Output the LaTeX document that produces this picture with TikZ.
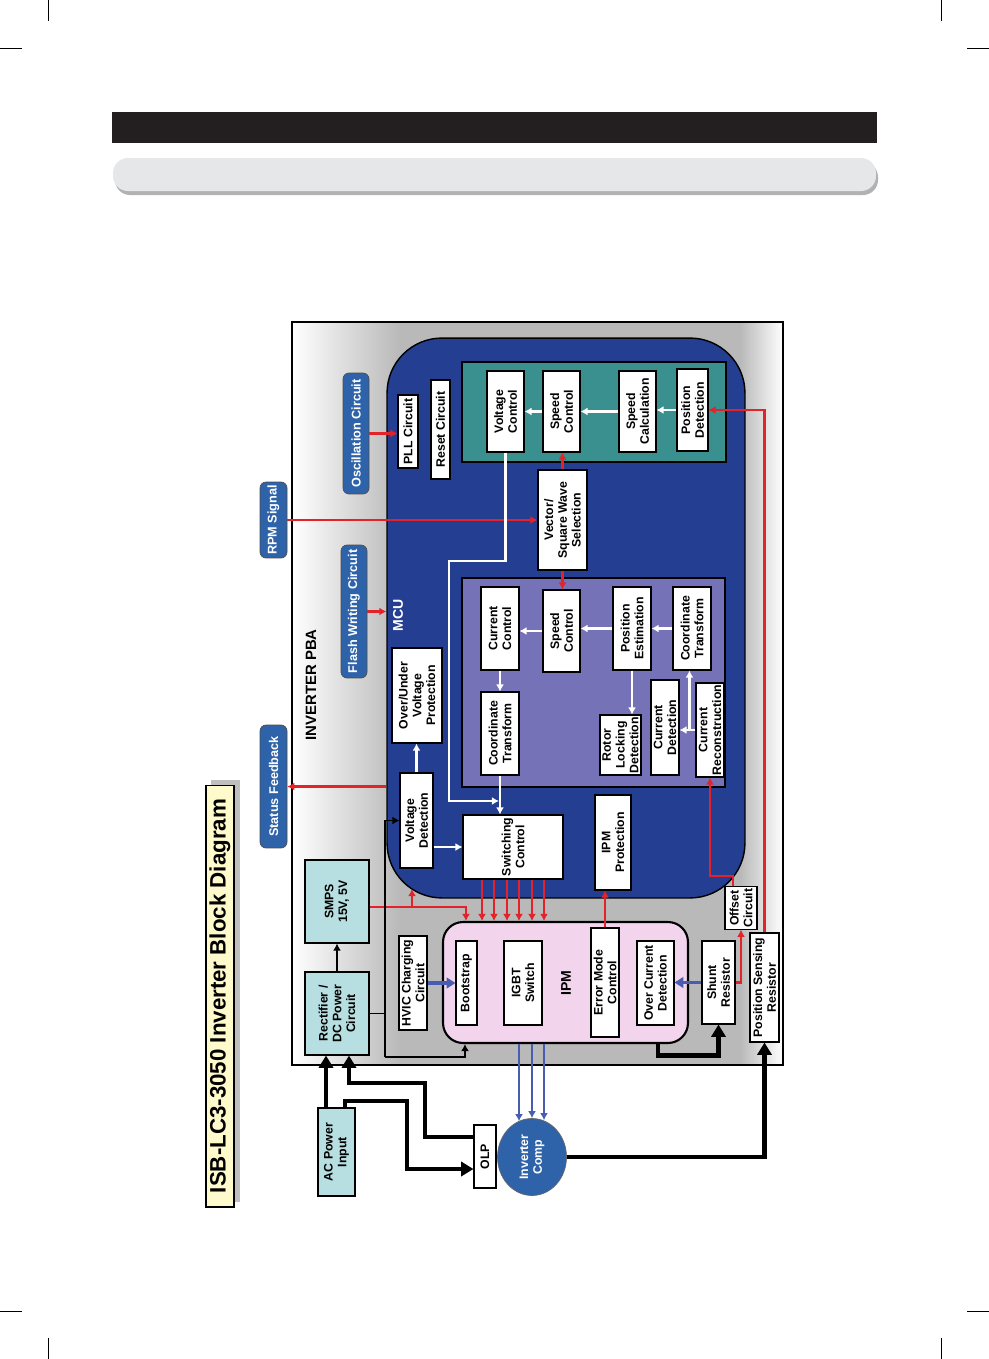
\documentclass[tikz,border=0pt]{standalone}
\usepackage{fontspec}
\setsansfont{Liberation Sans}
\usetikzlibrary{arrows.meta, calc, shapes.geometric}

\definecolor{mcublue}{RGB}{36,62,146}
\definecolor{pnlteal}{RGB}{58,143,143}
\definecolor{pnlviolet}{RGB}{118,114,184}
\definecolor{pillblue}{RGB}{46,99,170}
\definecolor{pwrcyan}{RGB}{183,222,224}
\definecolor{ipmpink}{RGB}{242,213,236}
\definecolor{ttlyellow}{RGB}{255,250,204}
\definecolor{sigred}{RGB}{226,35,42}
\definecolor{phblue}{RGB}{74,92,176}
\definecolor{barblack}{RGB}{35,31,32}
\definecolor{bargray}{RGB}{230,231,232}

\begin{document}
\begin{tikzpicture}[
  x=0.02cm, y=-0.02cm,
  font=\sffamily\bfseries\fontsize{7}{7.8}\selectfont,
  blk/.style={rectangle, draw=black, line width=0.6pt, fill=white, rotate=90, align=center, inner sep=1pt},
  pwr/.style={blk, fill=pwrcyan},
  pill/.style={rectangle, rounded corners=1.2mm, draw=black!70, line width=0.4pt, fill=pillblue, text=white, rotate=90, align=center, inner sep=1pt, font=\sffamily\bfseries\fontsize{7.2}{8}\selectfont},
  panel/.style={rectangle, draw=black, line width=1.6pt},
  lbl/.style={rotate=90, align=center, inner sep=0pt, font=\sffamily\bfseries\fontsize{8}{9}\selectfont},
  rarr/.style={draw=sigred, line width=1.4pt, -{Latex[length=4pt,width=4.5pt]}},
  warr/.style={draw=white, line width=1.2pt, -{Latex[length=4pt,width=4.5pt]}},
  barr/.style={draw=black, line width=1.1pt, -{Latex[length=4pt,width=4.5pt]}},
  bfat/.style={draw=black, line width=2.8pt, -{Triangle[length=7pt,width=8pt]}},
  parr/.style={draw=phblue, line width=1.2pt, -{Latex[length=4pt,width=4.5pt]}},
  pfat/.style={draw=phblue, line width=2pt, -{Triangle[length=5pt,width=6pt]}}
]
\useasboundingbox (0,0) rectangle (989,1359);

% page furniture
\draw[line width=0.5pt] (48,0) -- (48,21) (0,48) -- (22,48) (941,0) -- (941,21) (967,48) -- (989,48)
  (48,1338) -- (48,1359) (0,1311) -- (22,1311) (941,1338) -- (941,1359) (967,1311) -- (989,1311);
\fill[barblack] (112,112) rectangle (877,143);
\fill[gray!60, rounded corners=0.3cm] (115,162) rectangle (878,195);
\fill[bargray, rounded corners=0.3cm] (113,158) rectangle (876,191);

% title
\fill[gray!50] (211,780) rectangle (240,1202);
\node[blk, fill=ttlyellow, minimum width=8.44cm, minimum height=0.56cm, font=\sffamily\bfseries\fontsize{12.7}{14}\selectfont] (title) at (220,996) {ISB-LC3-3050 Inverter Block Diagram};

% inverter board
\shade[left color=white, right color=gray!55] (292,322) rectangle (400,1065);
\shade[left color=gray!55, middle color=gray!15, right color=gray!55] (400,322) rectangle (740,1065);
\shade[left color=gray!55, right color=white] (740,322) rectangle (783,1065);
\node[draw=black, line width=1.6pt, minimum width=9.82cm, minimum height=14.86cm] (pba) at (537.5,693.5) {};
\node[draw=black, line width=0.8pt, fill=mcublue, rounded corners=1.1cm, minimum width=7.16cm, minimum height=11.2cm] (mcu) at (566,618) {};
\node[panel, fill=pnlteal, minimum width=5.28cm, minimum height=2cm] (spdpnl) at (594,412) {};
\node[panel, fill=pnlviolet, minimum width=5.26cm, minimum height=4.18cm] (vecpnl) at (593.5,682.5) {};
\node[draw=black, line width=1.2pt, fill=ipmpink, rounded corners=0.4cm, minimum width=4.9cm, minimum height=2.42cm] (ipm) at (565.5,982.5) {};

\node[lbl, font=\sffamily\bfseries\fontsize{8.5}{10}\selectfont] (pbatxt) at (311,685) {INVERTER PBA};
\node[lbl, text=white] (mcutxt) at (398,615) {MCU};
\node[lbl] (ipmtxt) at (566,983) {IPM};

% outside signals
\node[pill, minimum width=2.42cm, minimum height=0.52cm] (osc) at (356,433.5) {Oscillation Circuit};
\node[pill, minimum width=2.66cm, minimum height=0.52cm] (flash) at (354,611.5) {Flash Writing Circuit};
\node[pill, minimum width=1.52cm, minimum height=0.54cm] (rpm) at (273.5,520) {RPM Signal};
\node[pill, minimum width=2.46cm, minimum height=0.54cm] (stat) at (273.5,786.5) {Status Feedback};

% MCU blocks
\node[blk, minimum width=1.46cm, minimum height=0.40cm] (pll) at (408,431.5) {PLL Circuit};
\node[blk, minimum width=1.98cm, minimum height=0.38cm] (rst) at (440.5,429.5) {Reset Circuit};
\node[blk, minimum width=1.62cm, minimum height=0.74cm] (vctl) at (505.5,411.5) {Voltage\\Control};
\node[blk, minimum width=1.62cm, minimum height=0.74cm] (sctlA) at (561.5,411.5) {Speed\\Control};
\node[blk, minimum width=1.62cm, minimum height=0.74cm] (scalc) at (637.5,411.5) {Speed\\Calculation};
\node[blk, minimum width=1.64cm, minimum height=0.62cm] (pdet) at (692.5,410) {Position\\Detection};
\node[blk, minimum width=2cm, minimum height=0.98cm] (vsel) at (562.5,520) {Vector/\\Square Wave\\Selection};
\node[blk, minimum width=1.66cm, minimum height=0.76cm] (cctl) at (500,628.5) {Current\\Control};
\node[blk, minimum width=1.64cm, minimum height=0.74cm] (sctlB) at (561.5,631) {Speed\\Control};
\node[blk, minimum width=1.66cm, minimum height=0.76cm] (pest) at (632,628.5) {Position\\Estimation};
\node[blk, minimum width=1.66cm, minimum height=0.76cm] (ctfB) at (692,628.5) {Coordinate\\Transform};
\node[blk, minimum width=1.66cm, minimum height=0.76cm] (ctfA) at (500,733.5) {Coordinate\\Transform};
\node[blk, minimum width=1.2cm, minimum height=0.82cm] (rlock) at (620.5,745) {Rotor\\Locking\\Detection};
\node[blk, minimum width=1.9cm, minimum height=0.56cm] (cdet) at (665,727.5) {Current\\Detection};
\node[blk, minimum width=1.88cm, minimum height=0.56cm] (crec) at (710,730) {Current\\Reconstruction};
\node[blk, minimum width=1.28cm, minimum height=2cm] (swc) at (513,847) {Switching\\Control};
\node[blk, minimum width=1.9cm, minimum height=0.66cm] (vdet) at (416.5,820.5) {Voltage\\Detection};
\node[blk, minimum width=1.9cm, minimum height=1cm] (ouvp) at (417,695.5) {Over/Under\\Voltage\\Protection};
\node[blk, minimum width=1.9cm, minimum height=0.72cm] (ipmp) at (613,842.5) {IPM\\Protection};

% power stage
\node[pwr, minimum width=1.66cm, minimum height=1.28cm] (smps) at (337,901.5) {SMPS\\15V, 5V};
\node[pwr, minimum width=1.66cm, minimum height=1.28cm] (rect) at (337,1013.5) {Rectifier /\\DC Power\\Circuit};
\node[blk, minimum width=1.88cm, minimum height=0.56cm] (hvic) at (413,983) {HVIC Charging\\Circuit};
\node[blk, minimum width=1.68cm, minimum height=0.42cm] (boot) at (466.5,983) {Bootstrap};
\node[blk, minimum width=1.68cm, minimum height=0.76cm] (igbt) at (523,983) {IGBT\\Switch};
\node[blk, minimum width=2.18cm, minimum height=0.56cm] (emc) at (605,982.5) {Error Mode\\Control};
\node[blk, minimum width=1.68cm, minimum height=0.74cm] (ocd) at (655.5,983) {Over Current\\Detection};
\node[blk, minimum width=1.66cm, minimum height=0.66cm] (shunt) at (718.5,982.5) {Shunt\\Resistor};
\node[blk, minimum width=0.84cm, minimum height=0.64cm] (ofs) at (741,908) {Offset\\Circuit};
\node[blk, minimum width=2.18cm, minimum height=0.58cm] (psr) at (764.5,987.5) {Position Sensing\\Resistor};

% outside the board
\node[pwr, minimum width=1.76cm, minimum height=0.74cm] (acin) at (336.5,1152) {AC Power\\Input};
\node[blk, minimum width=1.26cm, minimum height=0.44cm] (olp) at (485,1156.5) {OLP};
\node[ellipse, draw=black!60, fill=pillblue, text=white, rotate=90, align=center, inner sep=0pt, minimum width=1.54cm, minimum height=1.38cm] (comp) at (532,1157) {Inverter\\Comp};

% red signal lines
\draw[rarr] (osc.south) -- (osc.south -| pll.north);
\draw[rarr] (flash.south) -- (flash.south -| mcu.west);
\draw[rarr] (rpm.south) -- (rpm.south -| vsel.north);
\draw[rarr] (stat.south -| mcu.west) -- (stat.south);
\draw[rarr] (vsel.east) -- (vsel.east |- sctlA.west);
\draw[rarr] (vsel.west) -- (vsel.west |- sctlB.east);
\draw[rarr] (psr.east) |- (pdet.south);
\draw[rarr] (shunt.south) -| (ofs.west);
\draw[rarr] ($(ofs.east)+(-8,0)$) -- ++(0,-10) -| (crec.west);
\coordinate (mcuin) at (412,889);
\draw[rarr] ($(smps.south)+(0,5.5)$) -| ($(ipm.north west)+(24,0)$);
\draw[rarr] (mcuin |- 0,907) -- (mcuin);
\foreach \px in {482,494,507,519,532,544}
  \draw[rarr] (swc.west -| \px,0) -- (ipm.north -| \px,0);
\draw[rarr] (emc.east) -- (emc.east |- ipmp.west);

% white data paths
\draw[warr] (pdet.north) -- (pdet.north -| scalc.south);
\draw[warr] (scalc.north) -- (scalc.north -| sctlA.south);
\draw[warr] (sctlA.north) -- (sctlA.north -| vctl.south);
\draw[warr] (ctfB.north) -- (ctfB.north -| pest.south);
\draw[warr] (pest.north) -- (pest.north -| sctlB.south);
\draw[warr] (sctlB.north) -- (sctlB.north -| cctl.south);
\draw[warr] (cctl.west) -- (cctl.west |- ctfA.east);
\draw[warr] (pest.west) -- (pest.west |- rlock.east);
\draw[warr] (crec.north) -- (crec.north -| cdet.south);
\coordinate (crj) at ($(crec.north)+(-6,0)$);
\draw[warr] (crj) -- (crj |- ctfB.west);
\draw[warr] (ctfA.west) -- (ctfA.west |- swc.east);
\coordinate (vbend) at (449,561);
\coordinate (vjoin) at (499,801);
\draw[warr] (vctl.west) |- (vbend) |- (vjoin);
\draw[warr] (vdet.south |- swc.north) -- (swc.north);
\draw[warr] (vdet.east) -- (vdet.east |- ouvp.west);

% black power lines
\draw[barr] (rect.east) -- (smps.west);
\coordinate (busB) at (385,1057);
\draw[line width=1.1pt] (rect.south) -- (rect.south -| busB);
\draw[barr] (busB) |- (vdet.north);
\draw[barr] (busB) -| ($(ipm.south west)+(23,0)$);
\draw[bfat] ($(ipm.south east)+(-31,0)$) -- ++(0,11) -| (shunt.west);
\draw[bfat] (acin.east -| 326,0) -- (rect.west -| 326,0);
\draw[bfat] ($(olp.north)+(0,-19.5)$) -| (425,1083) -| (rect.west -| 349,0);
\draw[bfat] (acin.east -| 345,0) |- (407,1101) |- (olp.north |- 0,1169);
\draw[bfat] (comp) -| (psr.west);

% blue phase lines
\draw[pfat] (hvic.south) -- (hvic.south -| boot.north);
\draw[pfat] (shunt.north) -- (shunt.north -| ocd.south);
\foreach \px/\dy in {519/3, 532/0, 544/2}
  \draw[parr] (ipm.south -| \px,0) -- ($(comp.east -| \px,0)+(0,\dy)$);

\end{tikzpicture}
\end{document}
